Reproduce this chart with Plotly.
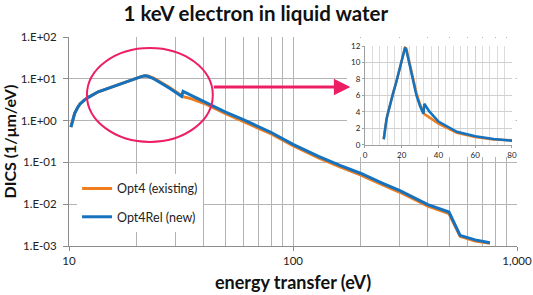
import plotly.graph_objects as go

# ---- data ----
energy = [10.2, 10.4, 10.6, 10.9, 11.2, 11.7, 12.2, 13.5, 15.2, 17, 18.5, 20, 21, 21.8, 22.5, 24,
          26, 28, 30, 31.8, 32.3, 35, 40, 50, 60, 70, 80, 100, 130, 162, 200, 250, 300, 400,
          450, 497, 557, 650, 757]
opt4_existing = [0.7, 1.1, 1.5, 2.0, 2.5, 3.1, 3.6, 4.9, 6.2, 7.6, 8.9, 10.3, 11.3, 11.8, 11.7,
                 10.2, 8.1, 6.3, 4.9, 3.95, 3.75, 3.35, 2.6, 1.47, 0.96, 0.66, 0.48, 0.25, 0.129,
                 0.078, 0.0505, 0.0295, 0.0193, 0.009, 0.0072, 0.006, 0.00172, 0.00132, 0.00116]
opt4rel_new = [0.7, 1.1, 1.5, 2.0, 2.5, 3.1, 3.6, 4.9, 6.2, 7.6, 8.9, 10.3, 11.3, 11.8, 11.5,
               9.9, 7.8, 6.0, 4.7, 3.8, 5.0, 4.07, 2.85, 1.6, 1.05, 0.72, 0.52, 0.27, 0.14,
               0.085, 0.055, 0.032, 0.021, 0.0098, 0.0078, 0.0065, 0.0018, 0.0014, 0.0012]

title_text = "1 keV electron in liquid water"
x_title = "energy transfer (eV)"
y_title = "DICS (1/\u03bcm/eV)"
x_tickvals = [10, 100, 1000]
x_ticktext = ["10", "100", "1,000"]
x_minorvals = [20, 30, 40, 50, 60, 70, 80, 90, 200, 300, 400, 500, 600, 700, 800, 900]
y_tickvals = [1e-3, 1e-2, 1e-1, 1e0, 1e1, 1e2]
y_ticktext = ["1.E-03", "1.E-02", "1.E-01", "1.E+00", "1.E+01", "1.E+02"]
series_names = ["Opt4 (existing)", "Opt4Rel (new)"]

ORANGE = "#F07D1E"
BLUE = "#1472BE"
PINK = "#EC1E64"
GRID = "#B4B4B4"
FONT = "Lato"

fig = go.Figure()
# main plot
fig.add_trace(go.Scatter(x=energy, y=opt4_existing, mode="lines", name=series_names[0],
                         line=dict(color=ORANGE, width=3), legendgroup="a"))
fig.add_trace(go.Scatter(x=energy, y=opt4rel_new, mode="lines", name=series_names[1],
                         line=dict(color=BLUE, width=3), legendgroup="b"))
# white backdrop subplot for the inset
fig.add_trace(go.Scatter(x=[None], y=[None], xaxis="x2", yaxis="y2", showlegend=False,
                         hoverinfo="skip"))
# inset plot
fig.add_trace(go.Scatter(x=energy, y=opt4_existing, mode="lines", showlegend=False,
                         line=dict(color=ORANGE, width=2.5), xaxis="x3", yaxis="y3"))
fig.add_trace(go.Scatter(x=energy, y=opt4rel_new, mode="lines", showlegend=False,
                         line=dict(color=BLUE, width=2.5), xaxis="x3", yaxis="y3"))

fig.update_layout(
    width=533, height=295,
    margin=dict(l=69, r=16, t=37, b=49, autoexpand=False),
    paper_bgcolor="white", plot_bgcolor="white",
    font=dict(family=FONT, size=11, color="#222222"),
    title=dict(text="<b>" + title_text + "</b>", x=0.48, xref="container", xanchor="center",
               y=1, yref="container", yanchor="top", pad=dict(t=7),
               font=dict(family=FONT, size=20.5, color="#111111")),
    showlegend=True,
    legend=dict(x=0.018, y=0.345, xanchor="left", yanchor="top", bgcolor="white",
                borderwidth=0, font=dict(family=FONT, size=12.5, color="#222222"),
                traceorder="grouped", tracegroupgap=9),
    xaxis=dict(type="log", range=[1, 3], tickvals=x_tickvals, ticktext=x_ticktext,
               showgrid=True, gridcolor=GRID, gridwidth=1, automargin=False,
               showline=True, linecolor="#8C8C8C", linewidth=1,
               ticks="outside", ticklen=4, tickcolor="#8C8C8C",
               minor=dict(tickvals=x_minorvals, showgrid=True, gridcolor=GRID, gridwidth=1),
               tickfont=dict(size=11.5, family=FONT),
               title=dict(text="<b>" + x_title + "</b>", standoff=10,
                          font=dict(family=FONT, size=18, color="#111111")),
               zeroline=False, mirror=False),
    yaxis=dict(type="log", range=[-3, 2], tickvals=y_tickvals, ticktext=y_ticktext,
               showgrid=True, gridcolor=GRID, gridwidth=1, automargin=False,
               showline=True, linecolor="#8C8C8C", linewidth=1,
               ticks="outside", ticklen=5, tickcolor="#8C8C8C", ticklabelstandoff=4,
               tickfont=dict(size=11.5, family=FONT),
               title=dict(text="<b>" + y_title + "</b>", standoff=4,
                          font=dict(family=FONT, size=16, color="#111111")),
               zeroline=False),
    xaxis2=dict(domain=[0.6205, 0.997], anchor="y2", visible=False, range=[0, 1]),
    yaxis2=dict(domain=[0.4258, 0.995], anchor="x2", visible=False, range=[0, 1]),
    xaxis3=dict(domain=[0.6607, 0.9888], anchor="y3", range=[0, 80], dtick=20,
                showgrid=True, gridcolor="#D0D0D0", gridwidth=1, automargin=False,
                minor=dict(dtick=4, showgrid=True, gridcolor="#DCDCDC", gridwidth=1),
                showline=True, linecolor="#A0A0A0", linewidth=1,
                ticks="outside", ticklen=2, tickcolor="#A0A0A0",
                tickfont=dict(size=8, family=FONT), zeroline=False),
    yaxis3=dict(domain=[0.4833, 0.9569], anchor="x3", range=[0, 12], dtick=2,
                showgrid=True, gridcolor="#D0D0D0", gridwidth=1, automargin=False,
                showline=True, linecolor="#A0A0A0", linewidth=1,
                ticks="outside", ticklen=2, tickcolor="#A0A0A0",
                tickfont=dict(size=8, family=FONT), zeroline=False),
)

# highlight ellipse
fig.add_shape(type="circle", xref="paper", yref="paper",
              x0=0.040, x1=0.321, y0=0.498, y1=0.947,
              line=dict(color=PINK, width=2))
# arrow to inset
fig.add_annotation(x=0.628, y=0.761, xref="paper", yref="paper",
                   ax=-138, ay=0, axref="pixel", ayref="pixel",
                   text="", showarrow=True, arrowhead=2, arrowsize=1.1,
                   arrowwidth=3, arrowcolor=PINK, standoff=0, startstandoff=0)

fig.write_html("out.html", config={"displayModeBar": False},
               post_script="document.body.style.margin='0';document.body.style.overflow='hidden';")
